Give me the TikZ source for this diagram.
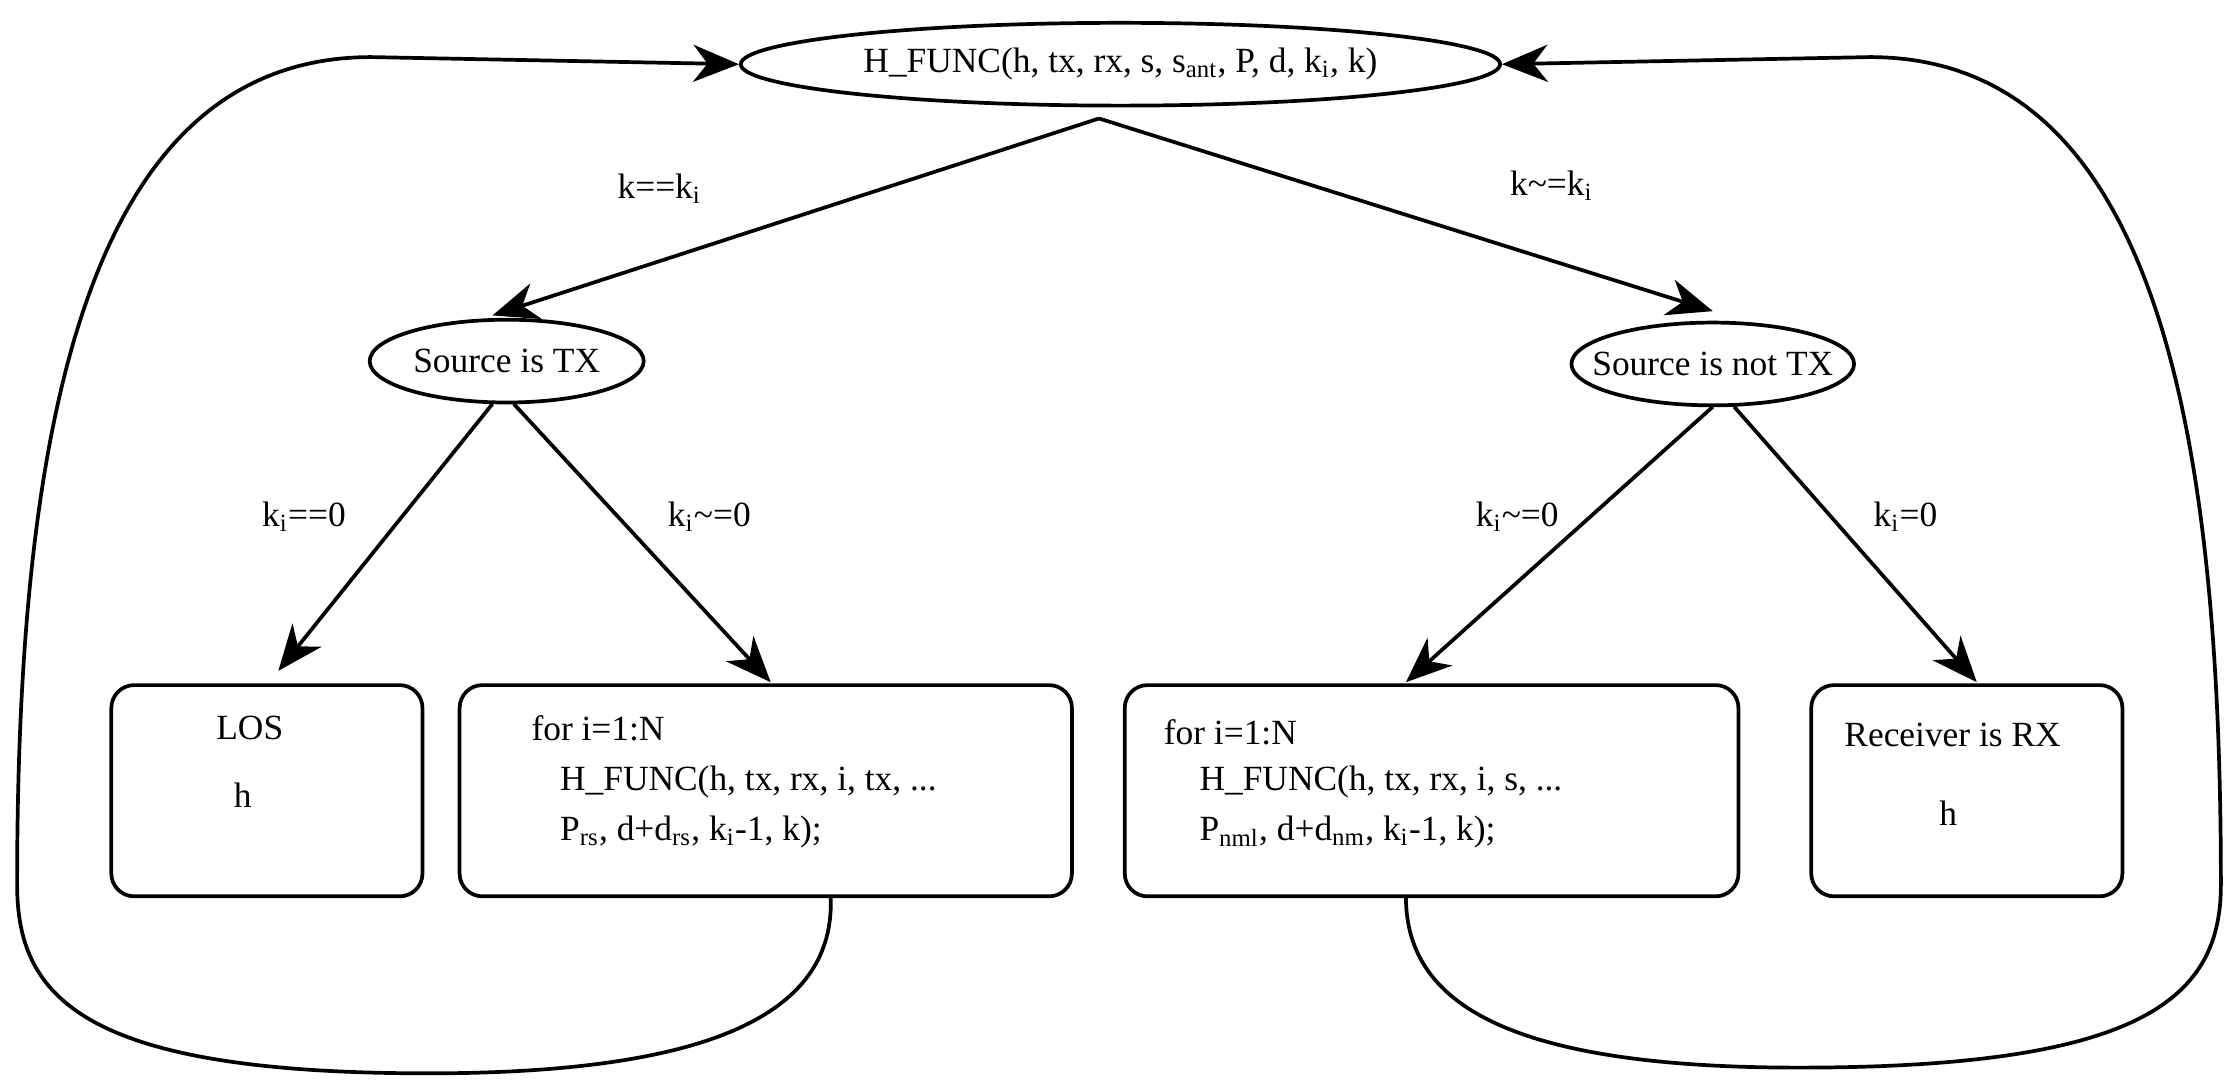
\documentclass[tikz,border=0pt]{standalone}
\usepackage{fontspec}
\setmainfont{Liberation Serif}
\usetikzlibrary{arrows.meta,shapes.geometric}
\begin{document}
\begin{tikzpicture}[x=0.5pt,y=-0.5pt,
  every node/.style={font=\fontsize{12.4}{14}\selectfont},
  el/.style={draw,ellipse,line width=1.3pt,inner sep=0pt},
  bx/.style={draw,rounded corners=8pt,line width=1.3pt},
  ln/.style={line width=1.3pt},
  ar/.style={ln,-{Stealth[length=16pt,width=13pt,inset=5pt]}},
  lb/.style={inner sep=0pt},
  tx/.style={inner sep=0pt,anchor=west}]
\useasboundingbox (0,0) rectangle (1568,765);
\node[el,minimum width=266pt,minimum height=29pt] (top) at (785,45) {H\_FUNC(h, tx, rx, s, s\textsubscript{ant}, P, d, k\textsubscript{i}, k)};
\node[el,minimum width=96pt,minimum height=29pt] (src) at (355,253) {Source is TX};
\node[el,minimum width=99pt,minimum height=29pt,inner xsep=-8pt] (nsrc) at (1200,255) {Source is not TX};
\draw[bx] (78,480) rectangle (296,628); \coordinate (b1) at (195,470);
\draw[bx] (322,480) rectangle (751,628); \coordinate (b2) at (540,478);
\draw[bx] (788,480) rectangle (1218,628); \coordinate (b3) at (985,478);
\draw[bx] (1269,480) rectangle (1487,628); \coordinate (b4) at (1385,478);
\node[lb] (t1) at (175,510) {LOS};
\node[lb] (t2) at (170,557) {h};
\node[tx] (t3) at (372,510) {for i=1:N};
\node[tx] (t4) at (392,548) {H\_FUNC(h, tx, rx, i, tx, ...};
\node[tx] (t5) at (392,583) {P\textsubscript{rs}, d+d\textsubscript{rs}, k\textsubscript{i}-1, k);};
\node[tx] (t6) at (815,513) {for i=1:N};
\node[tx] (t7) at (840,548) {H\_FUNC(h, tx, rx, i, s, ...};
\node[tx] (t8) at (840,583) {P\textsubscript{nml}, d+d\textsubscript{nm}, k\textsubscript{i}-1, k);};
\node[lb] (t9) at (1368,515) {Receiver is RX};
\node[lb] (t10) at (1365,570) {h};
\coordinate (tb) at (770,83);
\draw[ar] (tb) -- (345,221);
\draw[ar] (tb) -- (1200,218);
\node[lb] (l1) at (462,132) {k==k\textsubscript{i}};
\node[lb] (l2) at (1087,130) {k\textasciitilde=k\textsubscript{i}};
\coordinate (s1) at (345,283); \coordinate (s2) at (360,283);
\coordinate (s3) at (1200,285); \coordinate (s4) at (1215,285);
\draw[ar] (s1) -- (b1);
\draw[ar] (s2) -- (b2);
\draw[ar] (s3) -- (b3);
\draw[ar] (s4) -- (b4);
\node[lb] (l3) at (213,362) {k\textsubscript{i}==0};
\node[lb] (l4) at (497,362) {k\textsubscript{i}\textasciitilde=0};
\node[lb] (l5) at (1063,362) {k\textsubscript{i}\textasciitilde=0};
\node[lb] (l6) at (1335,362) {k\textsubscript{i}=0};
\coordinate (c1) at (582,628); \coordinate (c2) at (985,628);
\draw[ar] (c1) .. controls (585,700) and (520,752) .. (300,752)
  .. controls (60,752) and (12,700) .. (12,620)
  .. controls (12,300) and (60,40) .. (260,40) -- (top.west);
\draw[ar] (c2) .. controls (985,700) and (1050,748) .. (1260,748)
  .. controls (1500,748) and (1556,700) .. (1556,620)
  .. controls (1556,300) and (1510,40) .. (1310,40) -- (top.east);
\end{tikzpicture}
\end{document}
